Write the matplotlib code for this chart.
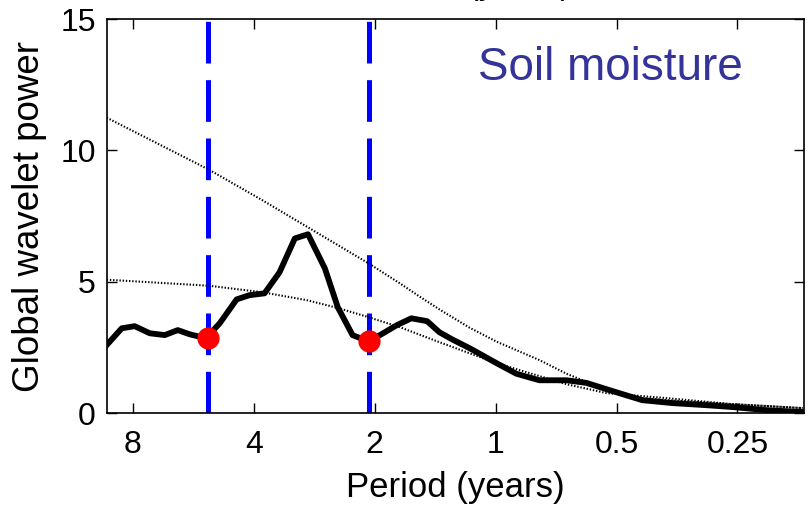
import matplotlib
matplotlib.use("Agg")
import matplotlib.pyplot as plt
import numpy as np

# global wavelet spectrum of soil moisture (period in years, power)
period = [9.29, 8.52, 7.91, 7.26, 6.66, 6.18, 5.77, 5.26, 4.86, 4.41, 4.10, 3.76,
          3.45, 3.16, 2.93, 2.66, 2.47, 2.27, 2.08, 1.94, 1.76, 1.62, 1.48, 1.38,
          1.28, 1.16, 0.994, 0.888, 0.778, 0.666, 0.594, 0.512, 0.431, 0.362,
          0.298, 0.257, 0.211, 0.172]
power = [2.59, 3.23, 3.31, 3.04, 2.97, 3.16, 3.00, 2.85, 3.42, 4.33, 4.49, 4.56,
         5.36, 6.65, 6.81, 5.51, 4.03, 2.97, 2.74, 2.97, 3.35, 3.61, 3.50, 3.08,
         2.80, 2.47, 1.90, 1.50, 1.25, 1.25, 1.15, 0.84, 0.49, 0.38, 0.30, 0.23,
         0.11, 0.04]

# significance levels (dotted)
sig_period = [9.29, 5.17, 3.80, 2.95, 2.07, 1.73, 1.55, 1.38, 1.16, 0.994,
              0.778, 0.666, 0.529, 0.456, 0.375, 0.257, 0.172]
sig_upper = [11.25, 9.27, 8.10, 7.10, 5.70, 4.94, 4.45, 3.95, 3.25, 2.72,
             2.02, 1.50, 0.87, 0.61, 0.49, 0.34, 0.19]
low_period = [9.29, 5.17, 3.80, 2.95, 2.45, 2.07, 1.73, 1.38, 0.994, 0.666,
              0.529, 0.375, 0.257, 0.172]
sig_lower = [5.08, 4.85, 4.60, 4.30, 3.99, 3.65, 3.27, 2.70, 1.90, 1.10,
             0.76, 0.57, 0.34, 0.19]

# marked periods
mark_period = [5.2, 2.07]
mark_power = [2.85, 2.74]

xticks = [8, 4, 2, 1, 0.5, 0.25]
xticklabels = ["8", "4", "2", "1", "0.5", "0.25"]
yticks = [0, 5, 10, 15]

plt.rcParams["lines.scale_dashes"] = False
plt.rcParams["font.family"] = ["Liberation Sans", "DejaVu Sans"]

fig = plt.figure(figsize=(8.11, 5.05), dpi=100)
ax = fig.add_axes([0.132, 0.182, 0.859, 0.780])

for p in mark_period:
    ax.plot([p, p], [0, 15], color="#0000ff", lw=3.6, dashes=(30, 12),
            solid_capstyle="butt", dash_capstyle="butt", zorder=2)

ax.plot(sig_period, sig_upper, color="black", lw=1.5, ls=(0, (1, 1.3)), zorder=3)
ax.plot(low_period, sig_lower, color="black", lw=1.5, ls=(0, (1, 1.3)), zorder=3)
ax.plot(period, power, color="black", lw=4.2, solid_joinstyle="round", zorder=4)
ax.plot(mark_period, mark_power, "o", color="#ff0000", ms=16, mec="none", zorder=5)

ax.set_xscale("log", base=2)
ax.set_xlim(9.27, 0.171)
ax.set_ylim(0, 15)
ax.set_xticks(xticks)
ax.set_xticklabels(xticklabels)
ax.xaxis.set_minor_locator(matplotlib.ticker.NullLocator())
ax.set_yticks(yticks)
ax.tick_params(direction="in", length=7, width=1.0, top=True, right=True,
               labelsize=23)
ax.tick_params(axis="x", pad=12)
ax.tick_params(axis="y", pad=8)
for sp in ax.spines.values():
    sp.set_linewidth(1.2)

ax.set_xlabel("Period (years)", fontsize=25, labelpad=8)
ax.set_ylabel("Global wavelet power", fontsize=26.5, labelpad=10)

ax.text(0.723, 0.845, "Soil moisture", transform=ax.transAxes, ha="center",
        va="baseline", fontsize=33, color="#333399")

# title of the panel above, cut off by the figure edge
fig.text(0.705, 1.012, "Period (years)", ha="right", va="baseline", fontsize=24)

fig.savefig("out.png", dpi=100, facecolor="white")
